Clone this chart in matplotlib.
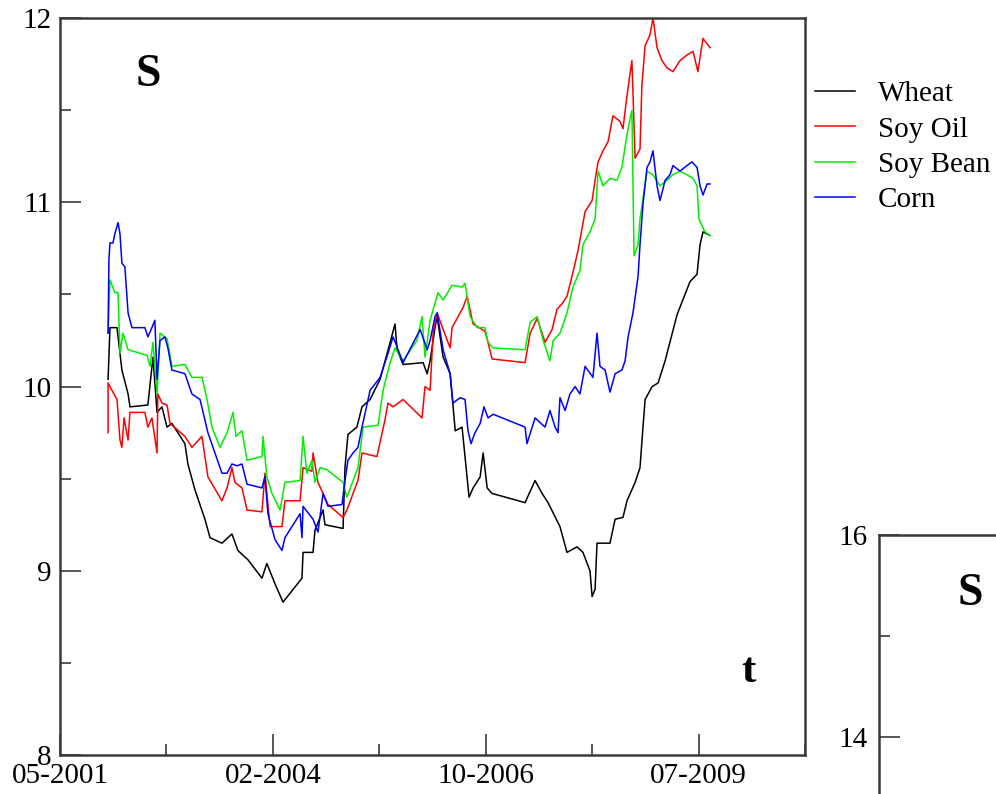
import matplotlib
matplotlib.use("Agg")
import matplotlib.pyplot as plt
from matplotlib.ticker import MultipleLocator

plt.rcParams['font.family'] = ['Liberation Serif', 'DejaVu Serif']

# time axis in days since 05-2001
tick_days = [0, 1000, 2000, 3000]
tick_labels = ["05-2001", "02-2004", "10-2006", "07-2009"]

wheat_t = [226, 235, 268, 291, 320, 329, 413, 437, 456, 479, 503, 526, 587, 601, 634, 681, 705, 761,
           808, 836, 883, 949, 972, 1010, 1048, 1137, 1142, 1189, 1198, 1236, 1245, 1330, 1339, 1353,
           1395, 1419, 1457, 1504, 1551, 1574, 1584, 1612, 1706, 1725, 1739, 1762, 1772, 1800, 1833,
           1857, 1889, 1922, 1941, 1974, 1988, 2007, 2030, 2185, 2232, 2265, 2293, 2349, 2382, 2429,
           2457, 2490, 2500, 2514, 2523, 2584, 2608, 2645, 2664, 2702, 2725, 2739, 2749, 2782, 2810,
           2843, 2899, 2960, 2993, 3007, 3021, 3054]
wheat_s = [10.04, 10.32, 10.32, 10.09, 9.96, 9.89, 9.90, 10.16, 9.86, 9.89, 9.78, 9.80, 9.69, 9.58,
           9.44, 9.28, 9.18, 9.15, 9.20, 9.11, 9.06, 8.96, 9.04, 8.93, 8.83, 8.96, 9.10, 9.10, 9.22,
           9.33, 9.25, 9.23, 9.56, 9.74, 9.78, 9.89, 9.93, 10.04, 10.24, 10.34, 10.20, 10.12, 10.13,
           10.07, 10.14, 10.32, 10.38, 10.16, 10.07, 9.76, 9.78, 9.40, 9.45, 9.51, 9.64, 9.45, 9.42,
           9.37, 9.49, 9.42, 9.37, 9.24, 9.10, 9.13, 9.10, 9.00, 8.86, 8.90, 9.15, 9.15, 9.28, 9.29,
           9.38, 9.48, 9.56, 9.78, 9.93, 10.00, 10.02, 10.14, 10.39, 10.57, 10.61, 10.77, 10.84, 10.82]

oil_t = [226, 226, 244, 268, 282, 291, 301, 320, 329, 399, 413, 432, 456, 460, 479, 503, 517, 587,
         620, 667, 695, 761, 785, 808, 822, 855, 879, 949, 963, 987, 1043, 1057, 1128, 1142, 1184,
         1189, 1212, 1236, 1259, 1330, 1348, 1377, 1400, 1419, 1489, 1527, 1541, 1565, 1612, 1701,
         1715, 1739, 1753, 1772, 1800, 1833, 1842, 1894, 1913, 1941, 1997, 2011, 2030, 2185, 2209,
         2242, 2279, 2312, 2335, 2359, 2382, 2410, 2434, 2467, 2500, 2514, 2528, 2551, 2575, 2598,
         2631, 2645, 2664, 2687, 2702, 2725, 2734, 2749, 2772, 2786, 2805, 2828, 2852, 2880, 2913,
         2946, 2974, 2997, 3021, 3054]
oil_s = [9.75, 10.02, 9.98, 9.93, 9.71, 9.67, 9.83, 9.71, 9.86, 9.86, 9.78, 9.83, 9.64, 9.96, 9.91,
         9.90, 9.80, 9.73, 9.67, 9.73, 9.51, 9.38, 9.45, 9.56, 9.48, 9.45, 9.33, 9.32, 9.53, 9.24,
         9.24, 9.38, 9.38, 9.56, 9.54, 9.64, 9.48, 9.42, 9.36, 9.29, 9.33, 9.42, 9.49, 9.64, 9.62,
         9.82, 9.91, 9.89, 9.93, 9.83, 10.00, 9.98, 10.29, 10.40, 10.31, 10.21, 10.32, 10.43, 10.49,
         10.34, 10.30, 10.24, 10.15, 10.13, 10.29, 10.37, 10.24, 10.31, 10.42, 10.45, 10.49, 10.62,
         10.74, 10.95, 11.01, 11.12, 11.22, 11.28, 11.33, 11.47, 11.44, 11.40, 11.58, 11.77, 11.24,
         11.29, 11.64, 11.85, 11.91, 12.00, 11.84, 11.77, 11.73, 11.71, 11.77, 11.80, 11.82, 11.71,
         11.89, 11.84]

bean_t = [226, 235, 258, 273, 282, 296, 320, 409, 423, 437, 456, 470, 503, 526, 587, 620, 667, 691,
          714, 752, 785, 813, 827, 855, 879, 949, 954, 972, 996, 1034, 1057, 1128, 1142, 1160, 1184,
          1198, 1222, 1254, 1330, 1348, 1400, 1424, 1494, 1518, 1551, 1574, 1612, 1677, 1701, 1715,
          1739, 1776, 1800, 1842, 1889, 1903, 1927, 1960, 1997, 2011, 2035, 2185, 2209, 2242, 2270,
          2302, 2317, 2349, 2382, 2410, 2443, 2457, 2490, 2514, 2528, 2551, 2584, 2617, 2640, 2664,
          2687, 2697, 2716, 2725, 2758, 2786, 2819, 2852, 2880, 2913, 2946, 2974, 2993, 3002, 3030,
          3054]
bean_s = [10.29, 10.58, 10.51, 10.51, 10.18, 10.29, 10.20, 10.17, 10.11, 10.24, 9.96, 10.29, 10.26,
          10.11, 10.12, 10.05, 10.05, 9.93, 9.78, 9.67, 9.75, 9.86, 9.73, 9.76, 9.60, 9.62, 9.73,
          9.51, 9.42, 9.33, 9.48, 9.49, 9.73, 9.53, 9.60, 9.48, 9.56, 9.55, 9.48, 9.40, 9.56, 9.78,
          9.79, 9.98, 10.13, 10.21, 10.14, 10.25, 10.38, 10.16, 10.36, 10.51, 10.47, 10.55, 10.54,
          10.56, 10.38, 10.32, 10.32, 10.24, 10.21, 10.20, 10.35, 10.38, 10.25, 10.14, 10.25, 10.29,
          10.40, 10.54, 10.63, 10.77, 10.84, 10.91, 11.17, 11.09, 11.13, 11.12, 11.19, 11.37, 11.50,
          10.71, 10.77, 10.91, 11.17, 11.15, 11.09, 11.12, 11.15, 11.17, 11.15, 11.13, 11.09, 10.91,
          10.84, 10.82]

corn_t = [226, 230, 235, 249, 258, 273, 282, 291, 305, 320, 338, 399, 413, 432, 446, 456, 470, 493,
          507, 526, 587, 620, 658, 695, 761, 785, 808, 832, 855, 879, 949, 963, 977, 1010, 1043, 1057,
          1128, 1137, 1142, 1189, 1212, 1236, 1259, 1325, 1339, 1353, 1377, 1400, 1419, 1457, 1504,
          1541, 1565, 1612, 1692, 1725, 1739, 1762, 1772, 1800, 1833, 1846, 1880, 1903, 1917, 1931,
          1950, 1974, 1992, 2011, 2035, 2185, 2194, 2232, 2279, 2302, 2326, 2340, 2349, 2373, 2396,
          2420, 2443, 2467, 2504, 2523, 2537, 2561, 2584, 2608, 2640, 2655, 2669, 2692, 2716, 2725,
          2739, 2758, 2772, 2786, 2805, 2819, 2843, 2866, 2880, 2913, 2946, 2969, 2993, 3007, 3021,
          3040, 3054]
corn_s = [10.29, 10.69, 10.78, 10.78, 10.83, 10.89, 10.83, 10.67, 10.65, 10.40, 10.32, 10.32, 10.27,
          10.32, 10.36, 10.04, 10.25, 10.27, 10.21, 10.09, 10.07, 9.96, 9.93, 9.75, 9.53, 9.53, 9.58,
          9.57, 9.58, 9.47, 9.45, 9.51, 9.31, 9.17, 9.11, 9.18, 9.31, 9.18, 9.35, 9.28, 9.21, 9.42,
          9.35, 9.36, 9.49, 9.60, 9.64, 9.67, 9.78, 9.98, 10.05, 10.18, 10.27, 10.13, 10.31, 10.20,
          10.25, 10.38, 10.40, 10.20, 10.07, 9.91, 9.94, 9.93, 9.76, 9.69, 9.75, 9.80, 9.89, 9.83,
          9.85, 9.78, 9.69, 9.83, 9.78, 9.87, 9.78, 9.75, 9.94, 9.87, 9.96, 10.00, 9.96, 10.11, 10.05,
          10.29, 10.11, 10.09, 9.97, 10.07, 10.09, 10.14, 10.27, 10.40, 10.60, 10.77, 10.99, 11.19,
          11.22, 11.28, 11.09, 11.01, 11.12, 11.15, 11.20, 11.17, 11.20, 11.22, 11.19, 11.09, 11.04,
          11.10, 11.10]

spine_col = '#3a3a3a'

fig = plt.figure(figsize=(9.96, 7.94), dpi=100)
ax = fig.add_axes([0.0602, 0.0491, 0.748, 0.928])

ax.plot(wheat_t, wheat_s, color='black', lw=1.1, label='Wheat')
ax.plot(oil_t, oil_s, color='#ff0000', lw=1.1, label='Soy Oil')
ax.plot(bean_t, bean_s, color='#00ee00', lw=1.1, label='Soy Bean')
ax.plot(corn_t, corn_s, color='#0000ff', lw=1.1, label='Corn')

ax.set_xlim(0, 3500)
ax.set_ylim(8, 12)
ax.set_xticks(tick_days)
ax.set_xticklabels(tick_labels)
ax.xaxis.set_minor_locator(MultipleLocator(500))
ax.set_yticks([8, 9, 10, 11, 12])
ax.yaxis.set_minor_locator(MultipleLocator(0.5))
ax.tick_params(which='major', direction='in', length=15, width=1.2, color=spine_col,
               labelsize=21, pad=6)
ax.tick_params(which='minor', direction='in', length=8, width=1.2, color=spine_col)
for sp in ax.spines.values():
    sp.set_color(spine_col)
    sp.set_linewidth(1.8)

ax.text(0.118, 0.923, 'S', transform=ax.transAxes, fontsize=33, fontweight='bold',
        ha='center', va='center')
ax.text(0.924, 0.113, 't', transform=ax.transAxes, fontsize=31, fontweight='bold',
        ha='center', va='center')

leg = ax.legend(loc='upper left', bbox_to_anchor=(815 / 996, 1 - 81 / 794),
                bbox_transform=fig.transFigure, frameon=False, fontsize=21,
                handlelength=1.37, handletextpad=0.79, labelspacing=0.3,
                borderpad=0, borderaxespad=0)

# second panel, mostly cut off at the bottom right
ax2 = fig.add_axes([0.8825, -0.691, 0.3, 1.0172])
ax2.set_ylim(8, 16)
ax2.set_xlim(0, 1)
ax2.set_yticks([14, 16])
ax2.yaxis.set_minor_locator(MultipleLocator(1))
ax2.set_xticks([])
ax2.tick_params(which='major', direction='in', length=15, width=1.2, color=spine_col,
                labelsize=21, pad=8)
ax2.tick_params(which='minor', direction='in', length=8, width=1.2, color=spine_col)
for sp in ax2.spines.values():
    sp.set_color(spine_col)
    sp.set_linewidth(1.8)
fig.text(970 / 996, 1 - 594 / 794, 'S', fontsize=33, fontweight='bold', ha='center', va='center')

fig.savefig('out.png', dpi=100)
